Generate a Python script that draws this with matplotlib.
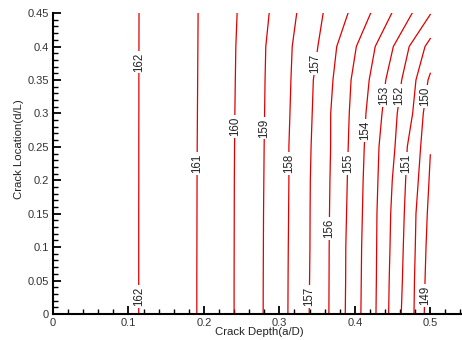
import numpy as np
import matplotlib
matplotlib.use("Agg")
import matplotlib.pyplot as plt
from matplotlib.ticker import MultipleLocator, FormatStrFormatter

plt.rcParams['font.family'] = ['Liberation Sans', 'DejaVu Sans']

# contour lines: x (crack depth) at each y (crack location)
y_rows = [0.45, 0.40, 0.35, 0.30, 0.25, 0.20, 0.15, 0.10, 0.05, 0.0]

x_162 = [0.1140, 0.1139, 0.1138, 0.1138, 0.1137, 0.1137, 0.1136, 0.1136, 0.1136, 0.1136]
x_161 = [0.1923, 0.1920, 0.1917, 0.1914, 0.1911, 0.1909, 0.1908, 0.1907, 0.1906, 0.1906]
x_160 = [0.2440, 0.2423, 0.2416, 0.2410, 0.2406, 0.2403, 0.2402, 0.2401, 0.2400, 0.2400]
x_159 = [0.2865, 0.2820, 0.2810, 0.2804, 0.2798, 0.2794, 0.2790, 0.2788, 0.2786, 0.2785]
x_158 = [0.3230, 0.3170, 0.3153, 0.3140, 0.3126, 0.3126, 0.3122, 0.3118, 0.3115, 0.3113]
x_157 = [0.3580, 0.3510, 0.3450, 0.3435, 0.3420, 0.3410, 0.3407, 0.3405, 0.3400, 0.3395]
x_156 = [0.3910, 0.3760, 0.3710, 0.3680, 0.3679, 0.3670, 0.3664, 0.3660, 0.3658, 0.3656]
x_155 = [0.4210, 0.4020, 0.3950, 0.3926, 0.3912, 0.3900, 0.3890, 0.3880, 0.3878, 0.3873]
x_154 = [0.4490, 0.4270, 0.4190, 0.4147, 0.4125, 0.4110, 0.4100, 0.4090, 0.4085, 0.4080]
x_153 = [0.4760, 0.4510, 0.4410, 0.4360, 0.4320, 0.4306, 0.4293, 0.4289, 0.4285, 0.4280]

y_152 = [0.448, 0.40, 0.35, 0.30, 0.25, 0.20, 0.15, 0.10, 0.05, 0.0]
x_152 = [0.5000, 0.4720, 0.4621, 0.4562, 0.4532, 0.4496, 0.4475, 0.4466, 0.4455, 0.4448]
y_151 = [0.412, 0.40, 0.35, 0.30, 0.25, 0.20, 0.15, 0.10, 0.05, 0.0]
x_151 = [0.5000, 0.4930, 0.4810, 0.4766, 0.4695, 0.4673, 0.4655, 0.4642, 0.4630, 0.4615]
y_150 = [0.360, 0.35, 0.30, 0.25, 0.20, 0.15, 0.10, 0.05, 0.0]
x_150 = [0.5000, 0.4970, 0.4907, 0.4872, 0.4841, 0.4810, 0.4801, 0.4790, 0.4784]
y_149 = [0.238, 0.20, 0.15, 0.10, 0.05, 0.0]
x_149 = [0.5000, 0.4983, 0.4960, 0.4943, 0.4930, 0.4920]

lines = {
    162: (x_162, y_rows), 161: (x_161, y_rows), 160: (x_160, y_rows),
    159: (x_159, y_rows), 158: (x_158, y_rows), 157: (x_157, y_rows),
    156: (x_156, y_rows), 155: (x_155, y_rows), 154: (x_154, y_rows),
    153: (x_153, y_rows), 152: (x_152, y_152), 151: (x_151, y_151),
    150: (x_150, y_150), 149: (x_149, y_149),
}

# where the labels sit along their lines
label_levels = [162, 162, 161, 160, 159, 158, 157, 157, 156, 155, 154, 153, 152, 151, 150, 149]
label_y = [0.377, 0.026, 0.225, 0.280, 0.278, 0.225, 0.375, 0.026, 0.128, 0.225,
           0.275, 0.327, 0.327, 0.225, 0.325, 0.028]

fig = plt.figure(figsize=(4.62, 3.40), dpi=100)
ax = fig.add_axes([0.1147, 0.0765, 0.8853, 0.885])

for lev, (xs, ys) in lines.items():
    ax.plot(xs, ys, color='#e00000', lw=0.9, solid_joinstyle='round', zorder=2)

for lev, yl in zip(label_levels, label_y):
    xs, ys = lines[lev]
    xl = np.interp(yl, ys[::-1], xs[::-1])
    ax.text(xl, yl, str(lev), rotation=90, ha='center', va='center',
            fontsize=8.3, color='#222222', zorder=3,
            bbox=dict(boxstyle='square,pad=0.15', fc='white', ec='none'))

ax.set_xlim(0, 0.542)
ax.set_ylim(0, 0.45)

ax.xaxis.set_major_locator(MultipleLocator(0.1))
ax.xaxis.set_minor_locator(MultipleLocator(0.02))
ax.yaxis.set_major_locator(MultipleLocator(0.05))
ax.yaxis.set_minor_locator(MultipleLocator(0.01))
ax.xaxis.set_major_formatter(FormatStrFormatter('%g'))
ax.yaxis.set_major_formatter(FormatStrFormatter('%g'))

ax.spines['top'].set_visible(False)
ax.spines['right'].set_visible(False)
for s in ['left', 'bottom']:
    ax.spines[s].set_linewidth(1.5)

ax.tick_params(which='major', direction='in', length=6, width=1.3,
               labelsize=8, labelcolor='#333333', pad=3)
ax.tick_params(which='minor', direction='in', length=3.5, width=1.0)

ax.set_xlabel('Crack Depth(a/D)', fontsize=8.2, color='#222222')
ax.set_ylabel('Crack Location(d/L)', fontsize=8.2, color='#222222')
ax.xaxis.set_label_coords(0.504, -0.043)
ax.yaxis.set_label_coords(-0.072, 0.548)

fig.savefig('out.png', dpi=100)
